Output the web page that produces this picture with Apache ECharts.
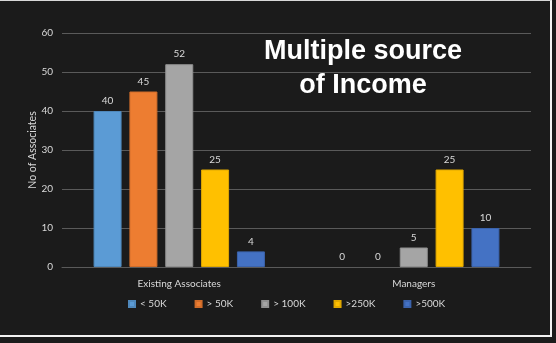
<!DOCTYPE html>
<html>
<head>
<meta charset="utf-8">
<script src="https://cdn.jsdelivr.net/npm/echarts@6/dist/echarts.min.js"></script>
<style>
  html, body { margin: 0; padding: 0; width: 556px; height: 343px; background: #1b1b1b; overflow: hidden; }
  #slide { position: absolute; left: 0; top: 0; width: 552px; height: 337px;
           border-top: 1px solid #d8d8d8; border-right: 2px solid #f2f2f2; border-bottom: 2px solid #f2f2f2;
           box-sizing: border-box; }
  #chart { position: absolute; left: 0; top: 0; width: 556px; height: 343px; }
</style>
</head>
<body>
<div id="slide"></div>
<div id="chart"></div>
<script>
// Respondent groups along the x axis
const categories = ['Existing Associates', 'Managers'];

// Income bands (one series each)
const bandNames = ['< 50K', '> 50K', '> 100K', '>250K', '>500K'];
const bandColors = ['#5b9bd5', '#ed7d31', '#a5a5a5', '#ffc000', '#4472c4'];
const bandBorders = ['#4f88bb', '#d06c2a', '#909090', '#e0a800', '#3b63ac'];

// Number of associates per band, per group
const under50k = [40, 0];
const over50k = [45, 0];
const over100k = [52, 5];
const over250k = [25, 25];
const over500k = [4, 10];
const bandValues = [under50k, over50k, over100k, over250k, over500k];

// Y axis ticks
const yMin = 0, yMax = 60, yStep = 10;

const textColor = '#d9d9d9';
const uiFont = 'Lato';

const chart = echarts.init(document.getElementById('chart'), null, { renderer: 'canvas' });

const series = bandNames.map((name, i) => ({
  name: name,
  type: 'bar',
  // empty bars get no outline so nothing shows at the baseline
  data: bandValues[i].map(v => ({ value: v, itemStyle: { borderWidth: v === 0 ? 0 : 1 } })),
  barWidth: 28,
  barGap: '28%',
  itemStyle: { color: bandColors[i], borderColor: bandBorders[i], borderWidth: 1 },
  label: {
    show: true,
    position: 'top',
    distance: 5,
    color: textColor,
    fontFamily: uiFont,
    fontSize: 10
  }
}));

chart.setOption({
  backgroundColor: 'transparent',
  animation: false,
  grid: { left: 62, right: 25, top: 33, bottom: 76, containLabel: false },
  xAxis: {
    type: 'category',
    data: categories,
    axisLine: { show: true, lineStyle: { color: '#5a5a5a', width: 1 } },
    axisTick: { show: false },
    axisLabel: { color: textColor, fontFamily: uiFont, fontSize: 10, margin: 12 }
  },
  yAxis: {
    type: 'value',
    min: yMin, max: yMax, interval: yStep,
    name: 'No of Associates',
    nameLocation: 'middle',
    nameGap: 24,
    nameMoveOverlap: false,
    nameTextStyle: { color: textColor, fontFamily: uiFont, fontSize: 10.5 },
    axisLine: { show: false },
    axisTick: { show: false },
    axisLabel: { color: textColor, fontFamily: uiFont, fontSize: 10, margin: 9 },
    splitLine: { lineStyle: { color: '#5a5a5a', width: 1 } }
  },
  legend: {
    data: bandNames,
    left: 128,
    top: 299,
    icon: 'rect',
    itemWidth: 6,
    itemHeight: 6,
    itemGap: 28,
    padding: 0,
    textStyle: { color: textColor, fontFamily: uiFont, fontSize: 10 }
  },
  graphic: [{
    type: 'text',
    x: 363,
    y: 35,
    style: {
      text: 'Multiple source\nof Income',
      fill: '#ffffff',
      font: 'bold 27px "Liberation Sans", Arial, sans-serif',
      align: 'center',
      verticalAlign: 'top',
      lineHeight: 34
    }
  }],
  series: series
});
</script>
</body>
</html>
